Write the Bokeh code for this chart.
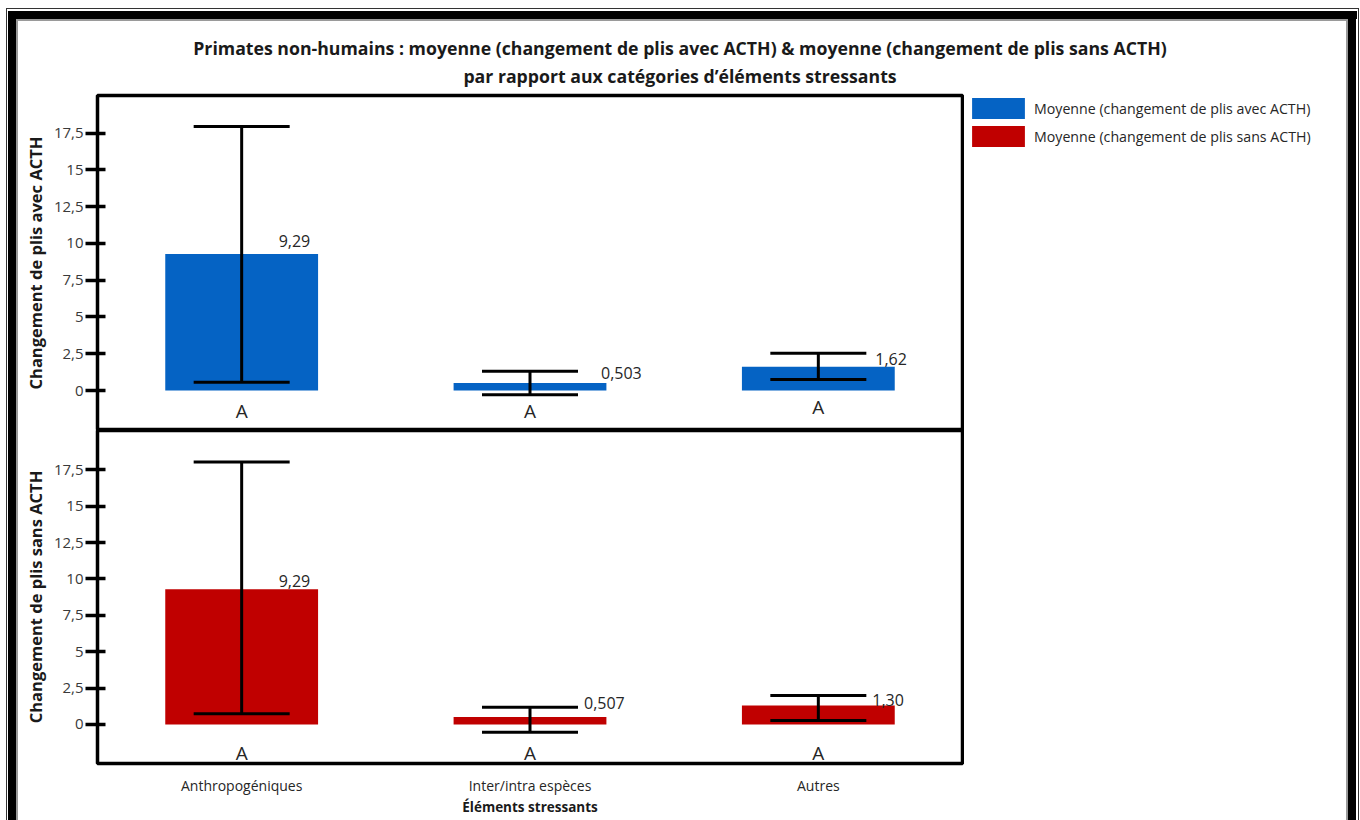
from bokeh.plotting import figure
from bokeh.layouts import column, row
from bokeh.models import (ColumnDataSource, FactorRange, FixedTicker, CustomJSTickFormatter,
                          Whisker, TeeHead, Legend, LegendItem, Div)
from bokeh.core.properties import value
from bokeh.embed import file_html
from bokeh.resources import INLINE

# Stress categories
categories = ["Anthropogéniques", "Inter/intra espèces", "Autres"]

# Mean fold change with ACTH, and its error-bar bounds
avec_mean = [9.29, 0.503, 1.62]
avec_upper = [17.96, 1.31, 2.54]
avec_lower = [0.56, -0.29, 0.75]

# Mean fold change without ACTH, and its error-bar bounds
sans_mean = [9.29, 0.507, 1.30]
sans_upper = [18.03, 1.19, 1.99]
sans_lower = [0.73, -0.53, 0.27]

# Significance groups (same letter = no difference)
groups = ["A", "A", "A"]

y_ticks = [0, 2.5, 5, 7.5, 10, 12.5, 15, 17.5]

title_lines = [
    "Primates non-humains : moyenne (changement de plis avec ACTH) & moyenne (changement de plis sans ACTH)",
    "par rapport aux catégories d’éléments stressants",
]
legend_labels = [
    "Moyenne (changement de plis avec ACTH)",
    "Moyenne (changement de plis sans ACTH)",
]

FONT = "Open Sans"
BLUE = "#0563C4"
RED = "#C00000"
PANEL_W = 964


def fmt(v):
    return f"{v:#.3g}".replace(".", ",")


x_range = FactorRange(factors=categories, range_padding=0)


def make_panel(height, y_range, border_top, border_bottom, ylabel):
    p = figure(width=PANEL_W, height=height, x_range=x_range, y_range=y_range,
               output_backend="svg", toolbar_location=None,
               min_border_left=97, min_border_right=2,
               min_border_top=border_top, min_border_bottom=border_bottom,
               background_fill_color="white", border_fill_alpha=0)
    p.xgrid.visible = False
    p.ygrid.visible = False
    p.outline_line_color = "black"
    p.outline_line_width = 3.5
    p.outline_line_alpha = 1

    ax = p.yaxis[0]
    ax.ticker = FixedTicker(ticks=y_ticks)
    ax.formatter = CustomJSTickFormatter(code="return tick.toString().replace('.', ',');")
    ax.axis_line_color = "black"
    ax.axis_line_width = 3
    ax.major_tick_line_color = "black"
    ax.major_tick_line_width = 3.5
    ax.major_tick_in = 8
    ax.major_tick_out = 12
    ax.minor_tick_line_color = None
    ax.major_label_standoff = 2
    ax.major_label_text_font = FONT
    ax.major_label_text_font_size = "15px"
    ax.major_label_text_color = "#3a3a3a"
    ax.axis_label = ylabel
    ax.axis_label_text_font = FONT
    ax.axis_label_text_font_size = "16.5px"
    ax.axis_label_text_font_style = "bold"
    ax.axis_label_text_color = "#1a1a1a"
    ax.axis_label_standoff = 4
    return p


def draw_series(p, mean, upper, lower, color, label_dx, label_dy, group_dy):
    src = ColumnDataSource(dict(
        cat=categories, mean=mean, upper=upper, lower=lower,
        label=[fmt(v) for v in mean], dx=label_dx, dy=label_dy,
        grp=groups, gdy=group_dy, base=[0.0] * len(categories),
    ))
    bars = p.vbar(x="cat", top="mean", bottom=0, width=0.53, source=src,
                  fill_color=color, line_color=None)
    whisker = Whisker(base="cat", upper="upper", lower="lower", source=src,
                      line_color="black", line_width=3, level="overlay",
                      upper_head=TeeHead(size=96, line_color="black", line_width=3),
                      lower_head=TeeHead(size=96, line_color="black", line_width=3))
    p.add_layout(whisker)
    p.text(x="cat", y="mean", text="label", source=src, x_offset="dx", y_offset="dy",
           text_align="left", text_baseline="middle", text_font=value(FONT),
           text_font_size="16px", text_color="#262626")
    p.text(x="cat", y="base", text="grp", source=src, y_offset="gdy",
           text_align="center", text_baseline="middle", text_font=value(FONT),
           text_font_size="19px", text_color="#262626")
    return bars


# --- chart title ---
title = Div(
    text=("<div style=\"font-family:'Open Sans'; font-weight:bold; font-size:17.7px; "
          "line-height:28px; text-align:center; color:#1a1a1a; width:1360px; "
          "padding-top:34px; margin:0;\">" + "<br>".join(title_lines) + "</div>"),
    width=1360, height=90, margin=0)

# --- upper panel: with ACTH ---
top = make_panel(340, (-2.72, 20.06), 5, 0, "Changement de plis avec ACTH")
top.xaxis.visible = False
draw_series(top, avec_mean, avec_upper, avec_lower, BLUE,
            label_dx=[37, 71, 57], label_dy=[-13, -10, -8], group_dy=[20, 20, 16])

# --- lower panel: without ACTH ---
bottom = make_panel(390, (-2.68, 20.2), 0, 57, "Changement de plis sans ACTH")
draw_series(bottom, sans_mean, sans_upper, sans_lower, RED,
            label_dx=[37, 54, 54], label_dy=[-8, -14, -6], group_dy=[29, 29, 29])
xa = bottom.xaxis[0]
xa.axis_line_color = None
xa.major_tick_line_color = None
xa.minor_tick_line_color = None
xa.major_tick_in = 0
xa.major_tick_out = 0
xa.major_label_standoff = 12
xa.major_label_text_font = FONT
xa.major_label_text_font_size = "14px"
xa.major_label_text_color = "#262626"
xa.axis_label = "Éléments stressants"
xa.axis_label_text_font = FONT
xa.axis_label_text_font_size = "13.5px"
xa.axis_label_text_font_style = "bold"
xa.axis_label_text_color = "#1a1a1a"
xa.axis_label_standoff = 0

# --- legend column to the right of the panels ---
LEG_H = 730
GLYPH_W, GLYPH_H, GAP = 66, 26, 2
key = figure(width=1360 - PANEL_W, height=LEG_H, x_range=x_range, y_range=(0, 1),
             output_backend="svg", toolbar_location=None,
             x_axis_location=None, y_axis_location=None, min_border=0,
             background_fill_alpha=0, border_fill_alpha=0, outline_line_color=None)
key.xgrid.visible = False
key.ygrid.visible = False
# swatch-only renderers: no bar is drawn here, only their legend keys
blue_key = key.vbar(x=categories[:1], top=[float("nan")], width=0.5, fill_color=BLUE, line_color=None)
red_key = key.vbar(x=categories[:1], top=[float("nan")], width=0.5, fill_color=RED, line_color=None)
legend = Legend(items=[
    LegendItem(label=legend_labels[0], renderers=[blue_key]),
    LegendItem(label=legend_labels[1], renderers=[red_key]),
], location=(1, LEG_H - 5 - (2 * GLYPH_H + GAP)), orientation="vertical",
    glyph_width=GLYPH_W, glyph_height=GLYPH_H, label_height=GLYPH_H, spacing=GAP,
    padding=0, margin=0, label_standoff=3,
    border_line_color=None, background_fill_alpha=0,
    label_text_font=FONT, label_text_font_size="14.2px", label_text_color="#262626")
key.add_layout(legend)

# heavy double border around the whole chart, painted behind the transparent plot borders
band = "linear-gradient({c},{c}) {x}px {y}px / {w}px {h}px no-repeat"
frame_layers = [
    band.format(c="#333333", x=6, y=8, w=1353, h=1),
    band.format(c="#333333", x=6, y=8, w=1, h=900),
    band.format(c="#333333", x=1358, y=8, w=1, h=900),
    band.format(c="#000000", x=8, y=11, w=1349, h=8),
    band.format(c="#000000", x=8, y=11, w=8, h=900),
    band.format(c="#000000", x=1348, y=11, w=8, h=900),
    band.format(c="#9a9a9a", x=16, y=19, w=1332, h=2),
    band.format(c="#9a9a9a", x=16, y=19, w=2, h=900),
    band.format(c="#9a9a9a", x=1346, y=19, w=2, h=900),
]

page = column(title, row(column(top, bottom, spacing=0), key, spacing=0), spacing=0,
              styles={"background": ", ".join(frame_layers) + ", #ffffff"})
open("out.html", "w").write(file_html(page, INLINE))
